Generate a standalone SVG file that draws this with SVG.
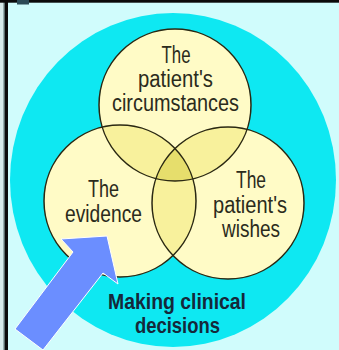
<svg xmlns="http://www.w3.org/2000/svg" width="339" height="350" viewBox="0 0 339 350">
  <style>
    .lbl { font-family: "Liberation Sans", Arial, sans-serif; font-size: 23px; fill: #2b2b1c; text-anchor: middle; }
    .ttl { font-family: "Liberation Sans", Arial, sans-serif; font-size: 22px; font-weight: bold; fill: #15283a; text-anchor: middle; }
    .ring { fill: none; stroke: #2a2812; stroke-width: 1.5; }
  </style>
  <defs>
    <clipPath id="cT"><circle cx="175" cy="105" r="76"/></clipPath>
    <clipPath id="cL"><circle cx="120" cy="201" r="76"/></clipPath>
    <clipPath id="cR"><circle cx="228" cy="203" r="76"/></clipPath>
  </defs>

  <!-- background and frame -->
  <rect x="0" y="0" width="339" height="350" fill="#d0fcfc"/>
  <rect x="0" y="0" width="3.5" height="350" fill="#d6eaea"/>
  <rect x="3.5" y="0" width="1.7" height="350" fill="#5a6a6a"/>
  <rect x="5" y="0" width="3" height="350" fill="#0a0a0a"/>
  <rect x="0" y="0" width="339" height="2.7" fill="#0a0a0a"/>
  <rect x="17" y="0" width="12" height="4.5" fill="#2c4a56"/>

  <g id="outer">
    <ellipse cx="173" cy="180" rx="163" ry="167" fill="#0ee8f2"/>
  </g>

  <g id="venn">
    <g id="circle-top"><circle cx="175" cy="105" r="76" fill="#fffbc6"/></g>
    <g id="circle-left"><circle cx="120" cy="201" r="76" fill="#fffbc6"/></g>
    <g id="circle-right"><circle cx="228" cy="203" r="76" fill="#fffbc6"/></g>
    <g id="overlaps">
      <g clip-path="url(#cT)"><circle cx="120" cy="201" r="76" fill="#f8f19c"/><circle cx="228" cy="203" r="76" fill="#f8f19c"/></g>
      <g clip-path="url(#cL)"><circle cx="228" cy="203" r="76" fill="#f8f19c"/></g>
      <g clip-path="url(#cT)"><g clip-path="url(#cL)"><circle cx="228" cy="203" r="76" fill="#e6de6c"/></g></g>
    </g>
    <circle class="ring" cx="175" cy="105" r="76"/>
    <circle class="ring" cx="120" cy="201" r="76"/>
    <circle class="ring" cx="228" cy="203" r="76"/>
  </g>

  <g id="label-top">
    <text class="lbl" x="176" y="63" textLength="29" lengthAdjust="spacingAndGlyphs">The</text>
    <text class="lbl" x="175.5" y="87" textLength="75" lengthAdjust="spacingAndGlyphs">patient's</text>
    <text class="lbl" x="175.5" y="111" textLength="127" lengthAdjust="spacingAndGlyphs">circumstances</text>
  </g>
  <g id="label-left">
    <text class="lbl" x="103.5" y="197" textLength="31" lengthAdjust="spacingAndGlyphs">The</text>
    <text class="lbl" x="103.5" y="222" textLength="77" lengthAdjust="spacingAndGlyphs">evidence</text>
  </g>
  <g id="label-right">
    <text class="lbl" x="251" y="187.5" textLength="30" lengthAdjust="spacingAndGlyphs">The</text>
    <text class="lbl" x="250" y="212.5" textLength="74" lengthAdjust="spacingAndGlyphs">patient's</text>
    <text class="lbl" x="251" y="236.5" textLength="58" lengthAdjust="spacingAndGlyphs">wishes</text>
  </g>
  <g id="title">
    <text class="ttl" x="177" y="309" textLength="138" lengthAdjust="spacingAndGlyphs">Making clinical</text>
    <text class="ttl" x="177.5" y="333" textLength="85" lengthAdjust="spacingAndGlyphs">decisions</text>
  </g>

  <g id="arrow">
    <polygon points="15,329 73,252 61,239 107,236 118,284 103,273 43,350" fill="#6b8eff" stroke="#ffffff" stroke-width="1" stroke-linejoin="miter"/>
  </g>
</svg>
